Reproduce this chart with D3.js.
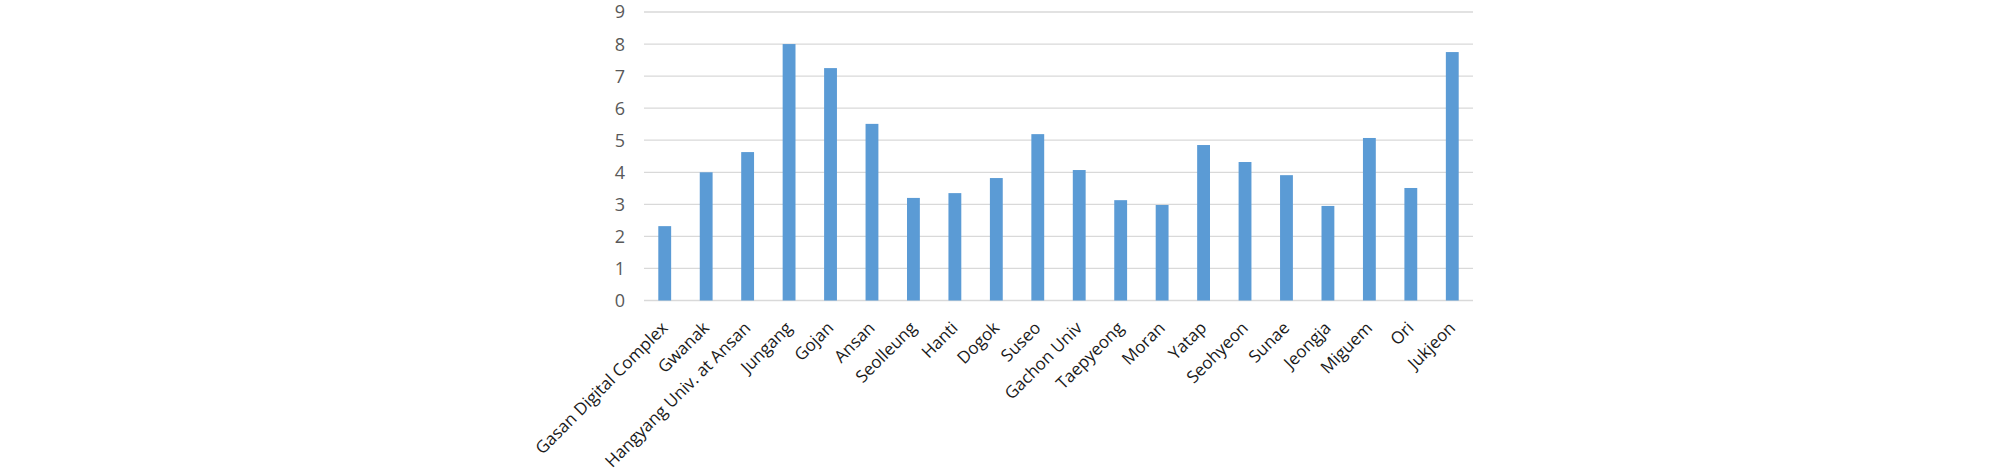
<!DOCTYPE html>
<html><head><meta charset="utf-8">
<script src="https://cdn.jsdelivr.net/npm/d3@7"></script>
<style>html,body{margin:0;padding:0;background:#fff;}</style>
</head><body><svg id="c" width="2008" height="475"></svg>
<script>
const categories = ["Gasan Digital Complex","Gwanak","Hangyang Univ. at Ansan","Jungang","Gojan","Ansan","Seolleung","Hanti","Dogok","Suseo","Gachon Univ","Taepyeong","Moran","Yatap","Seohyeon","Sunae","Jeongja","Miguem","Ori","Jukjeon"];
const values = [2.32,4.0,4.63,8.0,7.25,5.51,3.2,3.35,3.82,5.19,4.07,3.13,2.98,4.85,4.32,3.91,2.95,5.07,3.51,7.75];
const yTicks = [0,1,2,3,4,5,6,7,8,9];

const svg = d3.select("#c");
const x = d3.scaleBand().domain(categories).range([644,1473]).paddingInner(0.69).paddingOuter(0.345);
const y = d3.scaleLinear().domain([0,9]).range([300.5,12]);

svg.append("g").selectAll("line").data(yTicks).join("line")
  .attr("x1",644).attr("x2",1473)
  .attr("y1",d=>y(d)).attr("y2",d=>y(d))
  .attr("stroke","#d9d9d9").attr("stroke-width",1.3);

svg.append("g").selectAll("text").data(yTicks).join("text")
  .attr("x",625).attr("y",d=>y(d)).attr("dy","0.36em")
  .attr("text-anchor","end").attr("font-family","Open Sans, sans-serif")
  .attr("font-size",18).attr("fill","#595959").text(d=>d);

svg.append("g").selectAll("rect").data(values).join("rect")
  .attr("x",(d,i)=>x(categories[i])).attr("width",x.bandwidth())
  .attr("y",d=>y(d)).attr("height",d=>y(0)-y(d))
  .attr("fill","#5b9bd5");

svg.append("g").selectAll("text").data(categories).join("text")
  .attr("transform",d=>`translate(${x(d)+x.bandwidth()/2+4},${329}) rotate(-45)`)
  .attr("text-anchor","end").attr("font-family","Open Sans, sans-serif")
  .attr("font-size",17).attr("fill","#1a1a1a").text(d=>d);
</script></body></html>
